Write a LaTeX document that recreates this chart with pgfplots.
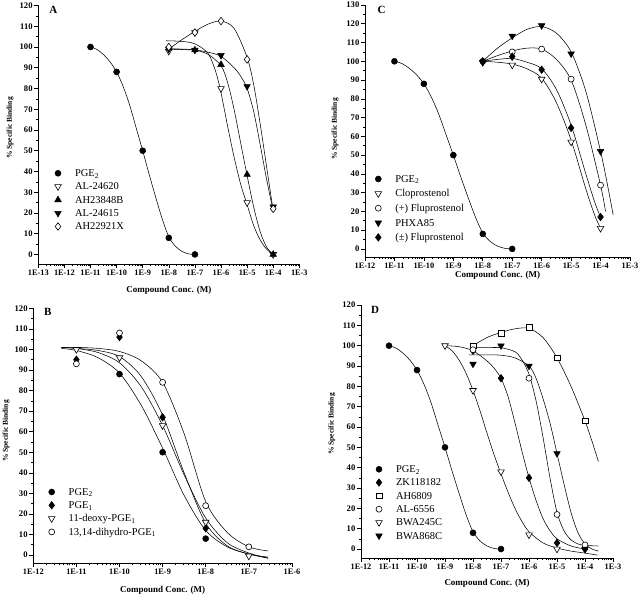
\documentclass[border=0pt]{standalone}
\usepackage{fontspec}
\setmainfont{Liberation Serif}
\usepackage{pgfplots}
\pgfplotsset{compat=1.18}

\def\mlist{}
\foreach \d in {-13,...,-4}{%
  \foreach \m in {0.30103,0.47712,0.60206,0.69897,0.77815,0.84510,0.90309,0.95424}{%
    \pgfmathsetmacro\v{\d+\m}%
    \xdef\mlist{\mlist\v,}%
  }%
}
\xdef\mlist{\mlist -100}

\pgfplotsset{
  panel/.style={
    scale only axis,
    anchor=south west,
    axis x line*=bottom, axis y line*=left,
    axis line style={-, line width=0.7pt},
    every tick/.style={line width=0.6pt, black},
    tick align=outside,
    major tick length=4pt, minor tick length=2.2pt,
    xticklabel style={font=\fontsize{8.3}{9}\selectfont\bfseries, inner sep=1.5pt},
    yticklabel style={font=\fontsize{8.6}{9}\selectfont\bfseries, inner sep=1.5pt},
    /pgf/number format/assume math mode=true,
    minor y tick num=1,
    minor xtick/.expanded=\mlist,
    clip=false,
    legend cell align=left,
    legend style={draw=none, fill=none, inner sep=0pt, outer sep=0pt, anchor=north west,
      font=\fontsize{10.5}{12}\selectfont,
      nodes={inner xsep=1pt, inner ysep=1pt, text height=9pt, text depth=2.3pt},
      row sep=0pt},
    legend image code/.code={\path[draw=none,fill=none] (0pt,-1pt) rectangle (20pt,1pt); \draw[##1] plot coordinates {(4pt,0pt)};},
  },
  fit/.style={black, line width=0.55pt, smooth, no marks, forget plot},
  mPGE/.style={only marks, mark=*, mark size=3pt, mark options={fill=black, draw=black, line width=0.5pt}},
  mOTd/.style={only marks, mark=triangle*, mark size=3.8pt, mark options={rotate=180, fill=white, draw=black, line width=0.6pt}},
  mFTu/.style={only marks, mark=triangle*, mark size=3.8pt, mark options={fill=black, draw=black, line width=0.5pt}},
  mFTd/.style={only marks, mark=triangle*, mark size=3.8pt, mark options={rotate=180, fill=black, draw=black, line width=0.5pt}},
  mODia/.style={only marks, mark=diamond*, mark size=3.8pt, mark options={fill=white, draw=black, line width=0.6pt}},
  mFDia/.style={only marks, mark=diamond*, mark size=3.8pt, mark options={fill=black, draw=black, line width=0.5pt}},
  mOCirc/.style={only marks, mark=*, mark size=3pt, mark options={fill=white, draw=black, line width=0.6pt}},
  mOSq/.style={only marks, mark=square*, mark size=2.8pt, mark options={fill=white, draw=black, line width=0.6pt}},
}

\begin{document}
\begin{tikzpicture}
% ================= Panel A =================
\begin{axis}[panel, at={(38.3pt,332pt)}, width=261pt, height=258.5pt,
  xmin=-13, xmax=-3, ymin=-4.6, ymax=120,
  xtick={-13,...,-3},
  xticklabels={1E-13,1E-12,1E-11,1E-10,1E-9,1E-8,1E-7,1E-6,1E-5,1E-4,1E-3},
  ytick={0,10,...,120},
  legend style={at={(0.0602,0.3766)}}]
\addplot[fit] coordinates {(-11,100)(-10.75,98.8)(-10.5,96.3)(-10.25,92.8)(-10,88)(-9.75,81)(-9.5,72)(-9.25,61)(-9,50)(-8.75,38.5)(-8.5,27.5)(-8.25,17)(-8,8.5)(-7.75,4)(-7.5,1.5)(-7.25,0.3)(-7,0)};
\addplot[fit] coordinates {(-8.1,103)(-7.5,102.7)(-7,101.5)(-6.5,97)(-6.2,88)(-6,78)(-5.75,62)(-5.5,47)(-5.25,34)(-5,24)(-4.75,14)(-4.5,7)(-4.25,2.5)(-4,0)};
\addplot[fit] coordinates {(-8,99)(-7.5,99)(-7,98.5)(-6.5,96.5)(-6,91)(-5.75,83)(-5.5,70)(-5.25,54)(-5,38)(-4.75,23)(-4.5,11)(-4.25,3.5)(-4,0)};
\addplot[fit] coordinates {(-8,99)(-7,98.5)(-6.5,97.5)(-6,95.5)(-5.5,90)(-5.25,86)(-5,80)(-4.75,69)(-4.5,53)(-4.25,36)(-4,21)};
\addplot[fit] coordinates {(-8,99)(-7.5,103.5)(-7,107.5)(-6.5,111)(-6,112.5)(-5.5,109)(-5,95)(-4.75,82)(-4.5,63)(-4.25,42)(-4,21)};
\addplot[mPGE] coordinates {(-11,100)(-10,88)(-9,50)(-8,8)(-7,0)};
\addlegendentry{PGE\textsubscript{2}}
\addplot[mOTd] coordinates {(-8,98)(-7,107)(-6,80)(-5,25)(-4,0)};
\addlegendentry{AL-24620}
\addplot[mFTu] coordinates {(-8,99.5)(-7,98.5)(-6,91.5)(-5,38.5)(-4,0)};
\addlegendentry{AH23848B}
\addplot[mFTd] coordinates {(-8,99)(-7,98.5)(-6,96)(-5,81)(-4,23)};
\addlegendentry{AL-24615}
\addplot[mODia] coordinates {(-8,100)(-7,107)(-6,112.5)(-5,94)(-4,22)};
\addlegendentry{AH22921X}
\end{axis}

% ================= Panel C =================
\begin{axis}[panel, at={(365pt,339pt)}, width=265pt, height=252pt,
  xmin=-12, xmax=-3, ymin=-4.3, ymax=130,
  xtick={-12,...,-3},
  xticklabels={1E-12,1E-11,1E-10,1E-9,1E-8,1E-7,1E-6,1E-5,1E-4,1E-3},
  ytick={0,10,...,130},
  legend style={at={(0.0351,0.3385)}, nodes={text height=9.6pt, text depth=3pt}}]
\addplot[fit] coordinates {(-11,100)(-10.75,98.8)(-10.5,96.3)(-10.25,92.8)(-10,88)(-9.75,81)(-9.5,72)(-9.25,61)(-9,50)(-8.75,38.5)(-8.5,27.5)(-8.25,17)(-8,8.5)(-7.75,4)(-7.5,1.5)(-7.25,0.3)(-7,0)};
\addplot[fit] coordinates {(-8,100)(-7.5,99.5)(-7,98.5)(-6.5,96)(-6,91)(-5.5,78)(-5,58)(-4.5,32)(-4.2,18)(-4,11)};
\addplot[fit] coordinates {(-8,100)(-7.5,103)(-7,105.5)(-6.5,107)(-6,106.5)(-5.5,101)(-5,90)(-4.5,66)(-4,34)(-3.83,20)};
\addplot[fit] coordinates {(-8,100)(-7.5,107)(-7,112.5)(-6.5,117)(-6,118.5)(-5.5,115)(-5,105)(-4.5,84)(-4,52)(-3.75,33)(-3.57,18)};
\addplot[fit] coordinates {(-8,100)(-7.5,101)(-7,101.5)(-6.5,99.5)(-6,96)(-5.5,85)(-5,66)(-4.5,40)(-4.2,25)(-4,17)};
\addplot[mPGE] coordinates {(-11,100)(-10,88)(-9,50)(-8,8)(-7,0)};
\addlegendentry{PGE\textsubscript{2}}
\addplot[mOTd] coordinates {(-8,99.5)(-7,98)(-6,90.5)(-5,57)(-4,11)};
\addlegendentry{Cloprostenol}
\addplot[mOCirc] coordinates {(-8,100)(-7,105)(-6,106.5)(-5,90.5)(-4,34)};
\addlegendentry{(+) Fluprostenol}
\addplot[mFTd] coordinates {(-8,99.5)(-7,113.5)(-6,119)(-5,104)(-4,52)};
\addlegendentry{PHXA85}
\addplot[mFDia] coordinates {(-8,100)(-7,102.5)(-6,95.5)(-5,64.5)(-4,17)};
\addlegendentry{(±) Fluprostenol}
\end{axis}

% ================= Panel B =================
\begin{axis}[panel, at={(33.3pt,32.7pt)}, width=258.6pt, height=255pt,
  xmin=-12, xmax=-6, ymin=-4, ymax=120,
  xtick={-12,...,-6},
  xticklabels={1E-12,1E-11,1E-10,1E-9,1E-8,1E-7,1E-6},
  ytick={0,10,...,120},
  legend style={at={(0.0557,0.3057)}}]
\addplot[fit] coordinates {(-11.35,100.5)(-11,99.5)(-10.5,96)(-10,88.5)(-9.5,73)(-9,52)(-8.5,29)(-8,12)(-7.5,4)(-7,0.5)(-6.55,-1.5)};
\addplot[fit] coordinates {(-11.35,101)(-11,100.5)(-10.5,99.5)(-10,96.5)(-9.5,87)(-9,68)(-8.5,40)(-8,15.5)(-7.5,4.5)(-7,0.5)(-6.55,-1)};
\addplot[fit] coordinates {(-11.35,101)(-11,100.5)(-10.5,98.5)(-10,93.5)(-9.5,82)(-9,63)(-8.5,39)(-8,18)(-7.5,6)(-7,1)(-6.55,-1.5)};
\addplot[fit] coordinates {(-11.35,101)(-11,101)(-10.5,100.5)(-10,99)(-9.5,94.5)(-9,84)(-8.5,59)(-8,26)(-7.5,11)(-7,4)(-6.55,2)};
\addplot[mPGE] coordinates {(-10,88)(-9,50)(-8,8)};
\addlegendentry{PGE\textsubscript{2}}
\addplot[mFDia] coordinates {(-11,95)(-10,106)(-9,67)(-8,13)};
\addlegendentry{PGE\textsubscript{1}}
\addplot[mOTd] coordinates {(-11,100)(-10,96)(-9,63)(-8,16)(-7,-0.5)};
\addlegendentry{11-deoxy-PGE\textsubscript{1}}
\addplot[mOCirc] coordinates {(-11,93)(-10,108)(-9,84)(-8,24)(-7,4)};
\addlegendentry{13,14-dihydro-PGE\textsubscript{1}}
\end{axis}

% ================= Panel D =================
\begin{axis}[panel, at={(361pt,38pt)}, width=252pt, height=253pt,
  xmin=-12, xmax=-3, ymin=-4.4, ymax=120,
  xtick={-12,...,-3},
  xticklabels={1E-12,1E-11,1E-10,1E-9,1E-8,1E-7,1E-6,1E-5,1E-4,1E-3},
  ytick={0,10,...,120},
  legend style={at={(0.0556,0.3769)}}]
\addplot[fit] coordinates {(-11,100)(-10.75,98.8)(-10.5,96.3)(-10.25,92.8)(-10,88)(-9.75,81)(-9.5,72)(-9.25,61)(-9,50)(-8.75,38.5)(-8.5,27.5)(-8.25,17)(-8,8.5)(-7.75,4)(-7.5,1.5)(-7.25,0.3)(-7,0)};
\addplot[fit] coordinates {(-9,100)(-8.5,99.5)(-8,97.5)(-7.5,92.5)(-7.25,89)(-7,84)(-6.75,75)(-6.5,62)(-6.25,48)(-6,35)(-5.75,24)(-5.5,15)(-5.25,9)(-5,5)(-4.5,1.5)(-4,0)};
\addplot[fit] coordinates {(-8,100)(-7.5,104)(-7,106.5)(-6.5,108.3)(-6,108.5)(-5.5,104)(-5,94)(-4.5,80)(-4,63)(-3.75,53)(-3.52,43)};
\addplot[fit] coordinates {(-8,99)(-7.5,99)(-7,99)(-6.5,97)(-6.25,93)(-6,86)(-5.75,73)(-5.5,55)(-5.25,35)(-5,18)(-4.75,9)(-4.5,4.5)(-4.25,2.5)(-4,1.8)(-3.52,1.5)};
\addplot[fit] coordinates {(-9,100)(-8.75,97.5)(-8.5,93)(-8.25,86.5)(-8,78)(-7.75,68)(-7.5,57)(-7.25,46.5)(-7,37)(-6.75,28)(-6.5,20)(-6.25,13.5)(-6,8.5)(-5.5,3)(-5,0.5)(-4.5,-1)(-4,-2)(-3.55,-3)};
\addplot[fit] coordinates {(-8.15,95.5)(-7.5,95.5)(-7,95.3)(-6.5,94)(-6,90)(-5.75,84)(-5.5,74)(-5.25,62)(-5,47)(-4.75,32)(-4.5,18)(-4.25,8)(-4,2.5)(-3.75,0)(-3.52,-1)};
\addplot[mPGE] coordinates {(-11,100)(-10,88)(-9,50)(-8,8)(-7,0)};
\addlegendentry{PGE\textsubscript{2}}
\addplot[mFDia] coordinates {(-8,97.5)(-7,84)(-6,35)(-5,3)(-4,0)};
\addlegendentry{ZK118182}
\addplot[mOSq] coordinates {(-8,100)(-7,106)(-6,109)(-5,94)(-4,63)};
\addlegendentry{AH6809}
\addplot[mOCirc] coordinates {(-8,98)(-6,84)(-5,17)(-4,2)};
\addlegendentry{AL-6556}
\addplot[mOTd] coordinates {(-9,100)(-8,78)(-7,38)(-6,7)(-5,0)};
\addlegendentry{BWA245C}
\addplot[mFTd] coordinates {(-8,91)(-7,100)(-6,90)(-5,47)(-4,0)};
\addlegendentry{BWA868C}
\end{axis}

% ================= labels =================
\begin{scope}[every node/.style={inner sep=0pt}]
\node[font=\fontsize{11}{12}\selectfont\bfseries] at (53.3pt,586pt) {A};
\node[font=\fontsize{11}{12}\selectfont\bfseries] at (381.7pt,586pt) {C};
\node[font=\fontsize{11}{12}\selectfont\bfseries] at (47.7pt,284pt) {B};
\node[font=\fontsize{11}{12}\selectfont\bfseries] at (375pt,286pt) {D};
\node[font=\fontsize{9}{10}\selectfont\bfseries] at (168.8pt,306pt) {Compound Conc. (M)};
\node[font=\fontsize{9}{10}\selectfont\bfseries] at (497.5pt,321pt) {Compound Conc. (M)};
\node[font=\fontsize{9}{10}\selectfont\bfseries] at (162.6pt,6pt) {Compound Conc. (M)};
\node[font=\fontsize{9}{10}\selectfont\bfseries] at (487pt,12.7pt) {Compound Conc. (M)};
\node[rotate=90, font=\fontsize{7.5}{8}\selectfont\bfseries] at (10pt,468pt) {\% Specific Binding};
\node[rotate=90, font=\fontsize{7.5}{8}\selectfont\bfseries] at (335pt,467pt) {\% Specific Binding};
\node[rotate=90, font=\fontsize{7.5}{8}\selectfont\bfseries] at (6pt,165pt) {\% Specific Binding};
\node[rotate=90, font=\fontsize{7.5}{8}\selectfont\bfseries] at (331.7pt,172pt) {\% Specific Binding};
\end{scope}
\pgfresetboundingbox
\path[use as bounding box] (0pt,0pt) rectangle (640pt,596pt);
\end{tikzpicture}
\end{document}
